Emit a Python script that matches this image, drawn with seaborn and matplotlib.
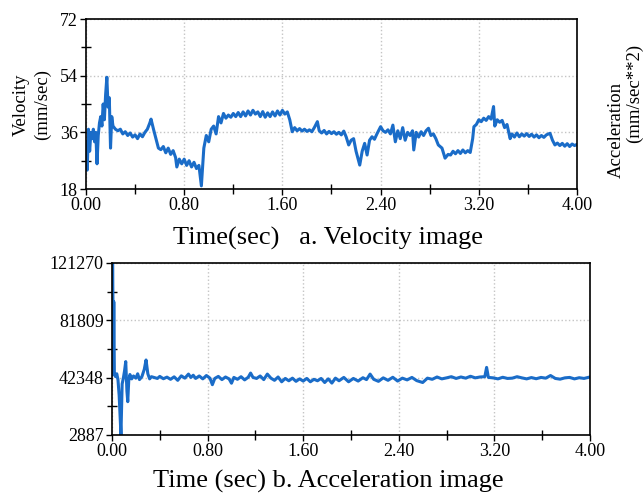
import numpy as np
import pandas as pd
import matplotlib
matplotlib.use('Agg')
import matplotlib.pyplot as plt
from matplotlib.ticker import MultipleLocator, FixedLocator
import seaborn as sns

# velocity trace (time in sec, velocity in mm/sec)
vel_time = [0.00, 0.01, 0.02, 0.03, 0.04, 0.05, 0.06, 0.07, 0.08, 0.09, 0.10, 0.11, 0.12, 0.13,
            0.14, 0.15, 0.16, 0.17, 0.18, 0.19, 0.20, 0.21, 0.22, 0.24, 0.26, 0.28, 0.30, 0.32,
            0.34, 0.36, 0.38, 0.40, 0.42, 0.44, 0.46, 0.48, 0.50, 0.52, 0.53, 0.55, 0.57, 0.59,
            0.61, 0.63, 0.65, 0.67, 0.69, 0.71, 0.73, 0.74, 0.76, 0.78, 0.80, 0.82, 0.84, 0.86,
            0.88, 0.90, 0.92, 0.94, 0.96, 0.98, 1.00, 1.02, 1.04, 1.06, 1.08, 1.10, 1.12, 1.14,
            1.16, 1.18, 1.20, 1.22, 1.24, 1.26, 1.28, 1.30, 1.32, 1.34, 1.36, 1.38, 1.40, 1.42,
            1.44, 1.46, 1.48, 1.50, 1.52, 1.54, 1.56, 1.58, 1.60, 1.62, 1.64, 1.66, 1.68, 1.70,
            1.72, 1.74, 1.76, 1.78, 1.80, 1.82, 1.84, 1.86, 1.885, 1.90, 1.92, 1.94, 1.96, 1.98,
            2.00, 2.02, 2.04, 2.06, 2.08, 2.10, 2.12, 2.14, 2.16, 2.18, 2.20, 2.23, 2.25, 2.27,
            2.29, 2.31, 2.33, 2.35, 2.37, 2.40, 2.42, 2.44, 2.46, 2.48, 2.50, 2.52, 2.54, 2.56,
            2.58, 2.60, 2.62, 2.64, 2.66, 2.67, 2.69, 2.71, 2.73, 2.75, 2.77, 2.79, 2.81, 2.83,
            2.85, 2.87, 2.90, 2.925, 2.95, 2.97, 2.99, 3.01, 3.03, 3.05, 3.07, 3.09, 3.11, 3.13,
            3.15, 3.16, 3.18, 3.20, 3.22, 3.24, 3.26, 3.28, 3.30, 3.32, 3.33, 3.35, 3.37, 3.39,
            3.41, 3.43, 3.455, 3.47, 3.49, 3.51, 3.53, 3.55, 3.57, 3.59, 3.61, 3.63, 3.65, 3.67,
            3.69, 3.71, 3.73, 3.75, 3.78, 3.80, 3.82, 3.84, 3.86, 3.88, 3.90, 3.92, 3.94, 3.96,
            3.98, 4.00]
vel_value = [33, 24, 37, 30, 36, 34, 37, 33, 36, 26, 35, 39, 41, 38,
             45, 40, 48, 53.5, 44, 47, 31, 41, 38, 37, 36.5, 37, 35.5, 36.2,
             35, 35.8, 34.5, 35.2, 34, 35.5, 34.6, 36, 37, 39, 40.2, 37, 34, 31,
             30.5, 31.5, 29.5, 31, 29, 30.2, 28, 25, 27.5, 26, 27.5, 25.5, 27, 25,
             26.5, 24.5, 25.5, 19, 31, 35, 33, 37, 38, 35.5, 41, 39, 42, 40.5,
             41.5, 40.8, 42, 41, 42.3, 41, 42.5, 41.2, 42.8, 41.5, 43, 41.8, 42.5, 41,
             42.6, 40.8, 42.2, 41, 42.5, 41.2, 42.8, 41.5, 43, 41.8, 42.5, 40, 36.2, 37.5,
             36.5, 37.2, 36.4, 37, 36.3, 36.8, 36.2, 37.5, 39.4, 36.5, 35.8, 36.6, 35.5, 36.3,
             35.6, 36.2, 35.4, 36, 35.2, 36.4, 34.5, 32, 33.5, 34, 30, 25.6, 30, 32.5,
             28.8, 33.5, 34.6, 33.8, 35.5, 37.8, 36.5, 36, 36.8, 35.5, 38.3, 33, 36.5, 34,
             37.5, 33.5, 36, 35, 36.5, 30.4, 36, 34.5, 36.2, 35, 36.5, 37.3, 35, 35.5,
             34, 32, 31, 27.8, 29, 28.8, 30, 29.2, 30.2, 29.3, 30.4, 29.5, 30.2, 29.6,
             34, 37.8, 38.5, 40, 39.4, 40.5, 39.8, 41, 40.2, 44.2, 38, 40, 39.2, 39.8,
             37.5, 38.5, 34, 35.5, 34.5, 35.8, 34.6, 35.5, 34.8, 35.6, 34.7, 35.4, 34.5, 35.2,
             34.3, 35, 34.4, 35.2, 35.7, 33.5, 32, 32.6, 31.8, 32.5, 31.6, 32.4, 31.5, 32.3,
             31.8, 32.2]

# acceleration trace (time in sec, acceleration in mm/sec**2)
acc_time = [0.000, 0.005, 0.012, 0.015, 0.020, 0.030, 0.040, 0.050, 0.060, 0.075, 0.085, 0.095,
            0.105, 0.115, 0.125, 0.132, 0.140, 0.150, 0.165, 0.180, 0.200, 0.215, 0.230, 0.250,
            0.270, 0.285, 0.300, 0.315, 0.330, 0.35, 0.38, 0.40, 0.43, 0.46, 0.49, 0.52, 0.55,
            0.58, 0.61, 0.64, 0.66, 0.68, 0.70, 0.73, 0.76, 0.79, 0.82, 0.84, 0.86, 0.89, 0.92,
            0.95, 0.98, 1.00, 1.02, 1.05, 1.08, 1.11, 1.14, 1.16, 1.18, 1.21, 1.24, 1.27, 1.30,
            1.33, 1.36, 1.39, 1.42, 1.45, 1.48, 1.51, 1.54, 1.57, 1.60, 1.63, 1.66, 1.69, 1.72,
            1.75, 1.78, 1.81, 1.84, 1.87, 1.90, 1.94, 1.98, 2.02, 2.06, 2.10, 2.13, 2.16, 2.19,
            2.23, 2.27, 2.31, 2.35, 2.39, 2.43, 2.47, 2.51, 2.55, 2.60, 2.64, 2.68, 2.72, 2.76,
            2.80, 2.84, 2.88, 2.92, 2.96, 3.00, 3.04, 3.08, 3.12, 3.135, 3.15, 3.19, 3.23, 3.27,
            3.31, 3.35, 3.39, 3.43, 3.47, 3.51, 3.55, 3.59, 3.63, 3.67, 3.71, 3.75, 3.79, 3.83,
            3.87, 3.91, 3.95, 4.00]
acc_value = [44000, 121270, 60000, 94600, 44500, 43000, 45000, 41000, 30000, 2887, 38000, 42000,
             47000, 53400, 33000, 25800, 40000, 44500, 41500, 43500, 42000, 45000, 41000, 43000,
             48000, 54500, 45000, 41500, 43000, 42500, 41800, 43200, 41600, 42700, 41200, 42900, 40500,
             43600, 42000, 44800, 42500, 44000, 41800, 43500, 41500, 43800, 42000, 37500, 41800, 43200, 41000,
             42800, 41500, 38500, 42500, 41200, 43000, 40800, 42600, 45500, 42500, 41800, 43500, 41000, 44800,
             42000, 40500, 42800, 39500, 41800, 40200, 42000, 39800, 41500, 40000, 41800, 39500, 41200, 40200,
             41800, 39000, 41500, 38600, 42000, 40200, 42500, 39500, 41800, 40000, 42300, 41000, 44800, 41200,
             39800, 42200, 40500, 42600, 40000, 42000, 40800, 42500, 40300, 39000, 42000, 41200, 42800, 41500,
             42200, 43000, 41800, 42800, 42000, 43300, 42200, 42800, 43000, 49400, 42500, 42200, 41500, 42600,
             41800, 42000, 43000, 42200, 41500, 42400, 41600, 42500, 42000, 43800, 41800, 41300, 42200, 42500,
             41500, 42300, 41800, 42800]

vel_df = pd.DataFrame({'time': vel_time, 'velocity': vel_value})
acc_df = pd.DataFrame({'time': acc_time, 'acceleration': acc_value})

sns.set_style('white')
plt.rcParams['font.family'] = ['Liberation Serif', 'DejaVu Serif']
plt.rcParams['text.color'] = 'black'
plt.rcParams['xtick.color'] = 'black'
plt.rcParams['ytick.color'] = 'black'

line_color = '#1a6cc8'
fig = plt.figure(figsize=(6.44, 4.99), dpi=100)
ax1 = fig.add_axes([0.1335, 0.6212, 0.7625, 0.3407])
ax2 = fig.add_axes([0.1739, 0.1283, 0.7422, 0.3447])


def style_axis(ax, yticks):
    ax.set_xlim(0, 4)
    ax.set_ylim(yticks[0], yticks[-1])
    ax.set_xticks([0, 0.8, 1.6, 2.4, 3.2, 4.0])
    ax.set_xticklabels(['0.00', '0.80', '1.60', '2.40', '3.20', '4.00'])
    ax.set_yticks(yticks)
    ax.set_yticklabels([str(v) for v in yticks])
    ax.xaxis.set_minor_locator(MultipleLocator(0.4))
    mids = [(yticks[i] + yticks[i + 1]) / 2 for i in range(len(yticks) - 1)]
    ax.yaxis.set_minor_locator(FixedLocator(mids))
    ax.tick_params(which='both', bottom=True, left=True, top=False, right=False)
    ax.tick_params(which='major', direction='out', length=4, width=1, labelsize=13, pad=2,
                   colors='black')
    ax.tick_params(which='minor', direction='inout', length=7, width=1, colors='black')
    ax.grid(True, which='major', color='#c4c4c4', linestyle=':', linewidth=1)
    for s in ax.spines.values():
        s.set_color('black')
        s.set_linewidth(1.2)
    ax.set_xlabel('')
    ax.set_ylabel('')


sns.lineplot(data=vel_df, x='time', y='velocity', ax=ax1, color=line_color, linewidth=2.2)
style_axis(ax1, [18, 36, 54, 72])

sns.lineplot(data=acc_df, x='time', y='acceleration', ax=ax2, color=line_color, linewidth=2.2)
style_axis(ax2, [2887, 42348, 81809, 121270])

fig.text(32 / 644, 1 - 105 / 499, 'Velocity\n(mm/sec)', rotation=90, ha='center', va='center',
         fontsize=13.5, linespacing=1.3)
fig.text(616 / 644, 1 - 130 / 499, 'Acceleration', rotation=90, ha='center', va='center', fontsize=13.5)
fig.text(634 / 644, 1 - 93 / 499, '(mm/sec**2)', rotation=90, ha='center', va='center', fontsize=13.5)

fig.text(328 / 644, 1 - 238 / 499, 'Time(sec)   a. Velocity image', ha='center', va='center', fontsize=19)
fig.text(328 / 644, 1 - 481 / 499, 'Time (sec) b. Acceleration image', ha='center', va='center', fontsize=19)

fig.savefig('out.png', dpi=100)
